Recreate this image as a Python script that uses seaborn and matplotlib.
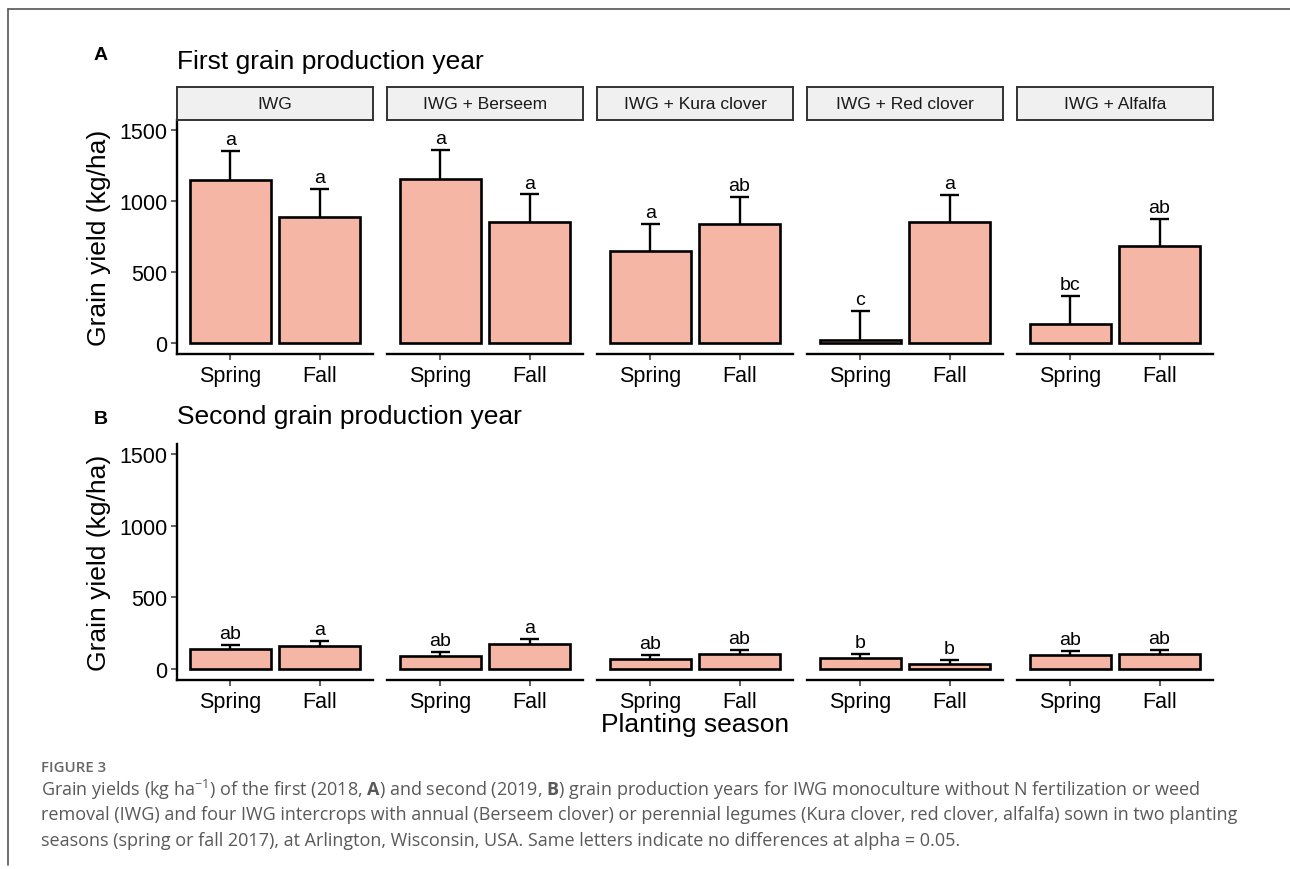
import matplotlib
matplotlib.use("Agg")
import matplotlib.pyplot as plt
from matplotlib.lines import Line2D
import seaborn as sns
import pandas as pd

# ---- data -------------------------------------------------------------
treatments = ["IWG", "IWG + Berseem", "IWG + Kura clover", "IWG + Red clover", "IWG + Alfalfa"]
seasons = ["Spring", "Fall"]

# first grain production year (2018)
y1_spring = [1150, 1155, 645, 25, 135]
y1_fall = [890, 850, 840, 850, 680]
y1_se_spring = [200, 200, 195, 200, 200]
y1_se_fall = [195, 195, 185, 192, 192]
y1_letters_spring = ["a", "a", "a", "c", "bc"]
y1_letters_fall = ["a", "a", "ab", "a", "ab"]

# second grain production year (2019)
y2_spring = [139, 93, 70, 79, 100]
y2_fall = [165, 179, 107, 39, 104]
y2_se_spring = [27, 28, 28, 28, 30]
y2_se_fall = [30, 30, 28, 28, 31]
y2_letters_spring = ["ab", "ab", "ab", "b", "ab"]
y2_letters_fall = ["a", "a", "ab", "b", "ab"]

y_ticks = [0, 500, 1000, 1500]

# ---- style ------------------------------------------------------------
sns.set_theme(style="ticks")
plt.rcParams["font.family"] = ["Liberation Sans", "DejaVu Sans"]
plt.rcParams["text.color"] = "black"
plt.rcParams["mathtext.fontset"] = "custom"
plt.rcParams["mathtext.rm"] = "Open Sans"
plt.rcParams["mathtext.bf"] = "Open Sans:bold"

BAR_FILL = "#F5B6A5"
CAP_HALF = 0.11  # half width of the error-bar caps, in category units
W, H = 1290, 870

fig = plt.figure(figsize=(W / 100, H / 100), dpi=100)
fig.patch.set_facecolor("white")


def rect(x0, y0, x1, y1):
    """Pixel box (top-left origin) -> figure fraction rectangle."""
    return [x0 / W, 1 - y1 / H, (x1 - x0) / W, (y1 - y0) / H]


facet_left = [177, 387, 597, 807, 1017]
facet_w = 196


def draw_panel(top, bottom, spring, fall, se_s, se_f, let_s, let_f, strips):
    for i, trt in enumerate(treatments):
        x0 = facet_left[i]
        ax = fig.add_axes(rect(x0, top, x0 + facet_w, bottom))
        df = pd.DataFrame({"season": seasons,
                           "grain_yield": [spring[i], fall[i]],
                           "se": [se_s[i], se_f[i]],
                           "letter": [let_s[i], let_f[i]]})
        sns.barplot(data=df, x="season", y="grain_yield", order=seasons,
                    color=BAR_FILL, saturation=1, edgecolor="black",
                    linewidth=1.9, width=0.9, errorbar=None, ax=ax)
        for patch, (_, row) in zip(ax.patches, df.iterrows()):
            xc = patch.get_x() + patch.get_width() / 2
            h = patch.get_height()
            upper = h + row["se"]
            # upper error bar only: stem from the bar top plus a cap
            ax.vlines(xc, h, upper, color="black", lw=1.7, zorder=3)
            ax.hlines(upper, xc - CAP_HALF, xc + CAP_HALF, color="black",
                      lw=1.7, zorder=3)
            ax.annotate(row["letter"], (xc, upper),
                        xytext=(0, 5), textcoords="offset points",
                        ha="center", va="baseline", fontsize=14, color="black")
        ax.set_xlim(-0.6, 1.6)
        ax.set_ylim(-75, 1568)
        ax.set_xlabel("")
        ax.set_ylabel("")
        ax.set_yticks(y_ticks)
        for s in ["top", "right"]:
            ax.spines[s].set_visible(False)
        ax.spines["bottom"].set_linewidth(1.7)
        ax.spines["bottom"].set_color("black")
        ax.tick_params(axis="x", length=4, width=1.1, color="#333333",
                       labelsize=15.5, pad=4, labelcolor="black")
        if i == 0:
            ax.spines["left"].set_linewidth(1.7)
            ax.spines["left"].set_color("black")
            ax.tick_params(axis="y", length=4, width=1.1, color="#333333",
                           labelsize=15.5, pad=3, labelcolor="black")
        else:
            ax.spines["left"].set_visible(False)
            ax.tick_params(axis="y", left=False, labelleft=False)
        ax.set_facecolor("none")

        if strips:
            sax = fig.add_axes(rect(x0, 88, x0 + facet_w, 121))
            sax.set_facecolor("#F0F0F0")
            sax.set_xticks([])
            sax.set_yticks([])
            for sp in sax.spines.values():
                sp.set_linewidth(1.4)
                sp.set_color("#333333")
            sax.text(0.5, 0.5, trt, ha="center", va="center",
                     fontsize=12.5, color="#1a1a1a", transform=sax.transAxes)


# panel A
draw_panel(121, 355, y1_spring, y1_fall, y1_se_spring, y1_se_fall,
           y1_letters_spring, y1_letters_fall, strips=True)
# panel B
draw_panel(445, 681, y2_spring, y2_fall, y2_se_spring, y2_se_fall,
           y2_letters_spring, y2_letters_fall, strips=False)

# panel tags, titles and axis titles
fig.text(101 / W, 1 - 55 / H, "A", fontsize=14, fontweight="bold", ha="center", va="center")
fig.text(101 / W, 1 - 420 / H, "B", fontsize=14, fontweight="bold", ha="center", va="center")
fig.text(177 / W, 1 - 62 / H, "First grain production year", fontsize=19, ha="left", va="center")
fig.text(177 / W, 1 - 417 / H, "Second grain production year", fontsize=19, ha="left", va="center")
fig.text(99 / W, 1 - 238 / H, "Grain yield (kg/ha)", fontsize=19, rotation=90, ha="center", va="center")
fig.text(99 / W, 1 - 563 / H, "Grain yield (kg/ha)", fontsize=19, rotation=90, ha="center", va="center")
fig.text(695 / W, 1 - 725 / H, "Planting season", fontsize=19, ha="center", va="center")

# caption
cap_font = ["Open Sans", "DejaVu Sans"]
fig.text(41 / W, 1 - 768 / H, "FIGURE 3", fontsize=10.8, fontweight="semibold",
         color="#666666", family=cap_font, ha="left", va="center")
caption_lines = [
    r"Grain yields (kg ha$^{-1}$) of the first (2018, $\mathbf{A}$) and second (2019, $\mathbf{B}$) "
    r"grain production years for IWG monoculture without N fertilization or weed",
    "removal (IWG) and four IWG intercrops with annual (Berseem clover) or perennial legumes "
    "(Kura clover, red clover, alfalfa) sown in two planting",
    "seasons (spring or fall 2017), at Arlington, Wisconsin, USA. Same letters indicate "
    "no differences at alpha = 0.05.",
]
for k, line in enumerate(caption_lines):
    fig.text(41 / W, 1 - (790 + 25.5 * k) / H, line, fontsize=13.0, color="#595959",
             family=cap_font, ha="left", va="center")

# page frame (top and left rules)
fig.add_artist(Line2D([8 / W, 1], [1 - 10 / H, 1 - 10 / H], color="#555555", lw=1.2,
                      transform=fig.transFigure))
fig.add_artist(Line2D([8 / W, 8 / W], [1 - 10 / H, 1 - 866 / H], color="#555555", lw=1.2,
                      transform=fig.transFigure))

fig.savefig("out.png", dpi=100)
